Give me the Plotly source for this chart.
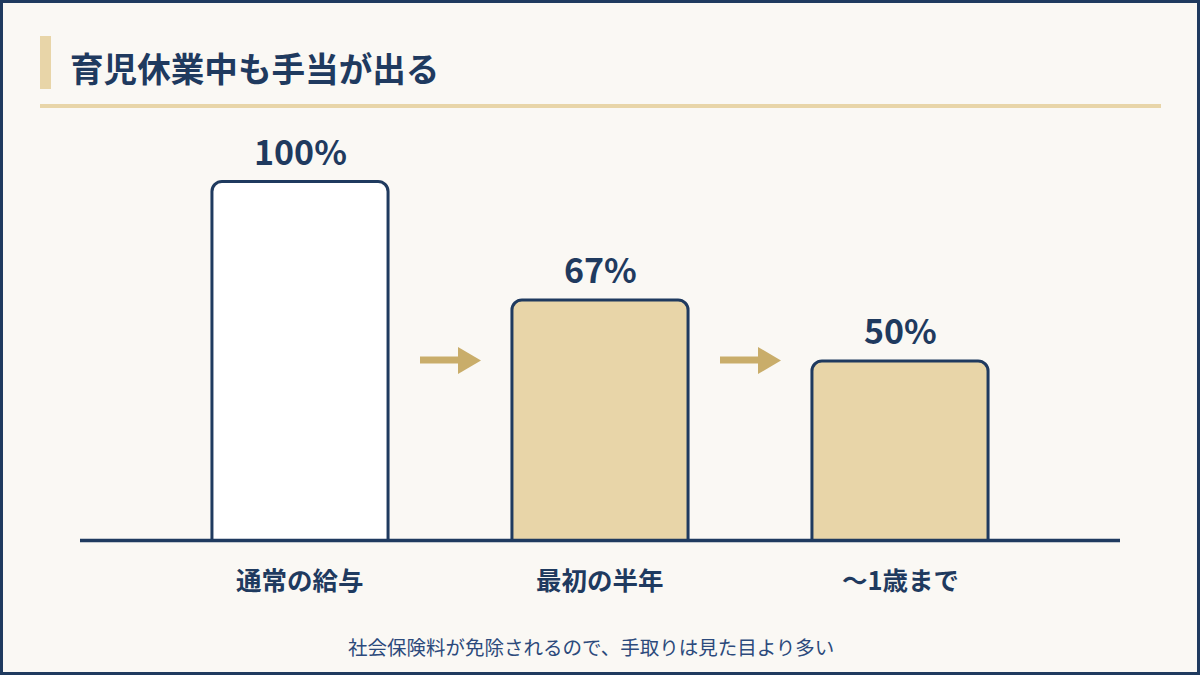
import plotly.graph_objects as go

# ---- data ----
categories = ["通常の給与", "最初の半年", "〜1歳まで"]
values = [100, 67, 50]
value_labels = ["100%", "67%", "50%"]
bar_fills = ["#ffffff", "#e8d5a8", "#e8d5a8"]
title_text = "育児休業中も手当が出る"
footnote_text = "社会保険料が免除されるので、手取りは見た目より多い"

# ---- style ----
W, H = 1200, 675
NAVY = "#1f3a5f"
GOLD = "#e8d5a8"
ARROW = "#c9ad6a"
BG = "#faf8f4"
FONT = "Noto Sans CJK JP"

def px(x):
    return x / W

def py(y):
    return 1 - y / H

# y axis: value 0 at pixel 540.5, 100 at pixel 181.5
ppu = (540.5 - 181.5) / 100.0
y_top = 540.5 / ppu
y_bot = -(H - 540.5) / ppu

fig = go.Figure()
fig.add_trace(go.Bar(
    x=list(range(len(categories))),
    y=values,
    width=0.587,
    marker=dict(color=bar_fills, line=dict(color=NAVY, width=3)),
    hoverinfo="skip",
))

fig.update_layout(
    width=W, height=H,
    margin=dict(l=0, r=0, t=0, b=0),
    paper_bgcolor=BG, plot_bgcolor=BG,
    showlegend=False,
    barcornerradius=10,
    xaxis=dict(range=[-1, 3], visible=False, fixedrange=True),
    yaxis=dict(range=[y_bot, y_top], visible=False, fixedrange=True),
)

shapes = []
# outer border
shapes.append(dict(type="rect", xref="paper", yref="paper", x0=0, x1=1, y0=0, y1=1,
                   line=dict(color=NAVY, width=6), fillcolor="rgba(0,0,0,0)", layer="above"))
# title accent bar
shapes.append(dict(type="rect", xref="paper", yref="paper", x0=px(40), x1=px(51), y0=py(89), y1=py(36),
                   line=dict(width=0), fillcolor=GOLD))
# title underline
shapes.append(dict(type="rect", xref="paper", yref="paper", x0=px(40), x1=px(1161), y0=py(108), y1=py(104),
                   line=dict(width=0), fillcolor=GOLD))
# baseline
shapes.append(dict(type="line", xref="paper", yref="y", x0=px(80), x1=px(1120), y0=0, y1=0,
                   line=dict(color=NAVY, width=3.5), layer="above"))
# arrows between bars
for cx in [450, 750]:
    shapes.append(dict(type="rect", xref="paper", yref="paper",
                       x0=px(cx - 30), x1=px(cx + 10), y0=py(363.5), y1=py(356.5),
                       line=dict(width=0), fillcolor=ARROW))
    path = "M {} {} L {} {} L {} {} Z".format(px(cx + 8), py(347), px(cx + 8), py(374), px(cx + 31), py(360.5))
    shapes.append(dict(type="path", xref="paper", yref="paper", path=path,
                       line=dict(width=0), fillcolor=ARROW))
fig.update_layout(shapes=shapes)

annotations = []
annotations.append(dict(text=title_text, xref="paper", yref="paper", x=px(68), y=py(67),
                        xanchor="left", yanchor="middle", showarrow=False,
                        font=dict(family=FONT, size=33.6, color=NAVY, weight="bold")))
for i, (v, lab) in enumerate(zip(values, value_labels)):
    annotations.append(dict(text=lab, xref="x", yref="y", x=i, y=v, xanchor="center", yanchor="bottom",
                            yshift=5, showarrow=False,
                            font=dict(family=FONT, size=34, color=NAVY, weight="bold")))
for i, c in enumerate(categories):
    annotations.append(dict(text=c, xref="x", yref="y", x=i, y=0, xanchor="center", yanchor="middle",
                            yshift=-38, showarrow=False,
                            font=dict(family=FONT, size=25.5, color=NAVY, weight="bold")))
annotations.append(dict(text=footnote_text, xref="paper", yref="paper", x=px(591), y=py(646),
                        xanchor="center", yanchor="middle", showarrow=False,
                        font=dict(family=FONT, size=19.5, color="#2c4a7c")))
fig.update_layout(annotations=annotations)

fig.write_html("out.html")
